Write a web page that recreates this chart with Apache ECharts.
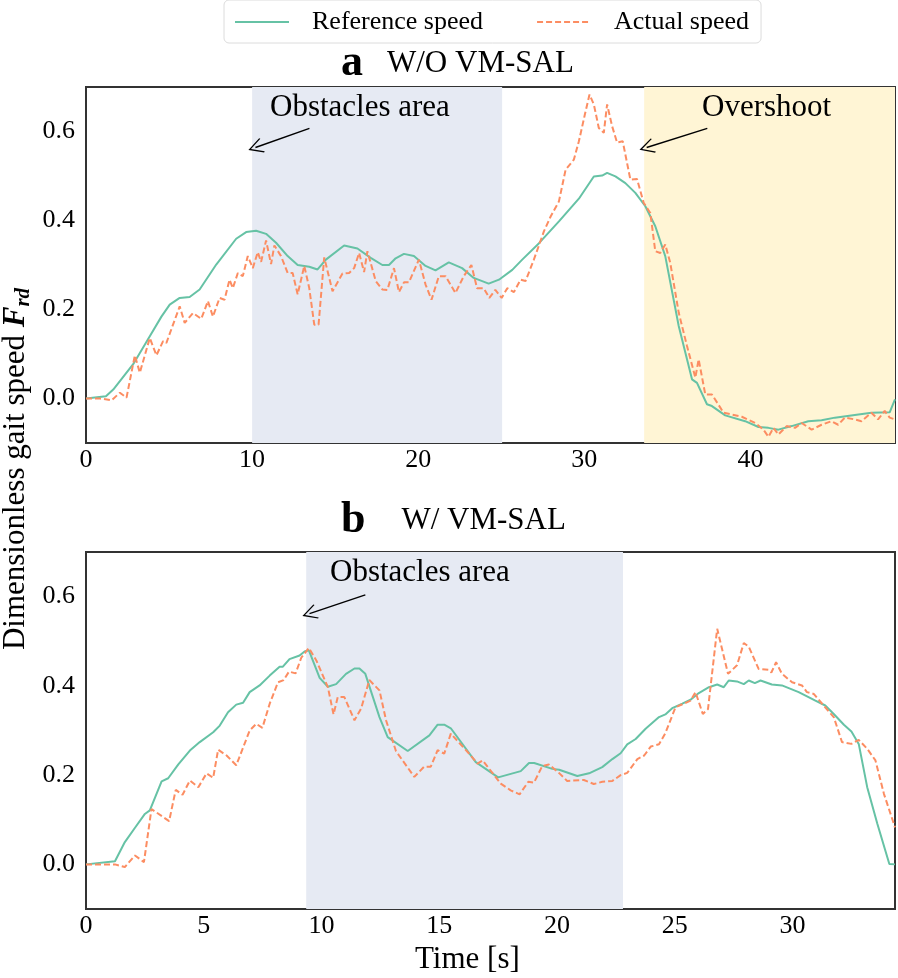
<!DOCTYPE html>
<html>
<head>
<meta charset="utf-8">
<title>Gait speed</title>
<script src="https://cdn.jsdelivr.net/npm/echarts@6/dist/echarts.min.js"></script>
<style>
  html, body { margin: 0; padding: 0; background: #fff; }
  #chart { width: 898px; height: 978px; }
</style>
</head>
<body>
<div id="chart"></div>
<script>
// panel a (W/O VM-SAL)
const topRefT = [0, 1.2, 1.64, 2.84, 3.84, 4.54, 5.04, 5.64, 6.24, 6.84, 7.84, 9.04, 9.64, 10.24, 10.84, 11.44, 12.14, 12.74, 13.44, 13.94, 14.44, 15.54, 16.34, 17.14, 17.84, 18.24, 18.64, 19.14, 19.74, 20.44, 21.04, 21.84, 22.64, 23.34, 24.24, 24.86, 25.66, 26.26, 27.27, 28.47, 29.67, 30.57, 31.07, 31.37, 31.87, 32.47, 33.07, 33.67, 34.27, 34.87, 35.68, 36.48, 36.78, 37.38, 37.68, 38.48, 39.68, 40.48, 41.08, 41.68, 42.48, 43.48, 44.28, 45.08, 46.28, 47.28, 48.38, 48.7]
const topRefV = [0, 0.005, 0.02, 0.077, 0.14, 0.184, 0.211, 0.226, 0.228, 0.245, 0.301, 0.359, 0.374, 0.377, 0.37, 0.35, 0.32, 0.3, 0.296, 0.29, 0.312, 0.344, 0.337, 0.316, 0.3, 0.3, 0.315, 0.325, 0.32, 0.298, 0.288, 0.306, 0.293, 0.271, 0.258, 0.267, 0.289, 0.312, 0.349, 0.398, 0.449, 0.499, 0.501, 0.507, 0.499, 0.484, 0.462, 0.432, 0.387, 0.32, 0.163, 0.043, 0.035, -0.013, -0.017, -0.038, -0.051, -0.064, -0.066, -0.07, -0.062, -0.051, -0.049, -0.043, -0.037, -0.032, -0.031, -0.002]
const topActT = [0, 0.84, 1.54, 2.04, 2.44, 2.94, 3.24, 3.84, 4.24, 4.64, 4.84, 5.64, 5.94, 6.44, 6.94, 7.34, 7.64, 8.04, 8.34, 8.64, 8.84, 9.14, 9.44, 9.74, 10.04, 10.34, 10.54, 10.84, 11.14, 11.34, 11.74, 12.14, 12.44, 12.74, 13.14, 13.44, 13.74, 14.0, 14.34, 14.84, 15.44, 15.84, 16.14, 16.44, 16.74, 16.94, 17.44, 17.84, 18.14, 18.54, 18.84, 19.14, 19.44, 20.04, 20.44, 20.8, 21.24, 21.64, 22.24, 22.74, 23.2, 23.54, 23.94, 24.28, 24.64, 25.02, 25.36, 25.76, 26.16, 26.46, 26.96, 27.57, 27.97, 28.47, 28.87, 29.37, 29.67, 30.03, 30.31, 30.57, 30.87, 31.17, 31.37, 31.67, 31.97, 32.31, 32.77, 33.17, 33.57, 33.97, 34.27, 34.57, 34.87, 35.17, 35.68, 36.18, 36.68, 36.88, 37.28, 37.68, 38.38, 39.48, 40.28, 40.78, 41.08, 41.38, 41.68, 42.18, 42.68, 43.08, 43.68, 44.28, 44.88, 45.28, 45.68, 46.28, 46.68, 47.28, 47.68, 48.08, 48.38, 48.7]
const topActV = [0, 0, -0.004, 0.013, 0.002, 0.097, 0.058, 0.136, 0.097, 0.129, 0.125, 0.207, 0.17, 0.192, 0.179, 0.219, 0.184, 0.226, 0.222, 0.267, 0.248, 0.282, 0.275, 0.32, 0.293, 0.329, 0.307, 0.355, 0.302, 0.344, 0.32, 0.282, 0.282, 0.234, 0.298, 0.248, 0.166, 0.166, 0.317, 0.241, 0.281, 0.282, 0.293, 0.327, 0.284, 0.331, 0.264, 0.245, 0.244, 0.293, 0.239, 0.261, 0.261, 0.312, 0.256, 0.222, 0.275, 0.275, 0.237, 0.275, 0.3, 0.248, 0.248, 0.226, 0.244, 0.226, 0.248, 0.239, 0.267, 0.264, 0.312, 0.376, 0.409, 0.443, 0.514, 0.537, 0.578, 0.638, 0.683, 0.661, 0.608, 0.597, 0.661, 0.612, 0.575, 0.578, 0.492, 0.493, 0.44, 0.417, 0.331, 0.327, 0.346, 0.305, 0.193, 0.118, 0.047, 0.088, 0.009, 0.009, -0.032, -0.041, -0.055, -0.07, -0.086, -0.066, -0.081, -0.062, -0.066, -0.055, -0.07, -0.059, -0.051, -0.059, -0.043, -0.047, -0.051, -0.032, -0.047, -0.028, -0.043, -0.047]

// panel b (W/ VM-SAL)
const botRefT = [0, 1.23, 1.65, 2.08, 2.5, 2.71, 3.21, 3.49, 3.92, 4.41, 4.83, 5.4, 5.68, 6.03, 6.38, 6.67, 6.95, 7.37, 7.8, 8.22, 8.36, 8.64, 9.07, 9.28, 9.46, 9.92, 10.27, 10.62, 11.04, 11.4, 11.61, 11.86, 12.46, 12.81, 13.66, 14.58, 14.93, 15.21, 15.49, 16.55, 17.5, 18.46, 18.81, 19.03, 19.8, 20.09, 20.86, 21.36, 21.92, 22.35, 22.7, 22.98, 23.34, 23.76, 24.33, 24.6, 24.89, 25.32, 25.67, 26.02, 26.45, 26.8, 27.08, 27.29, 27.64, 27.93, 28.14, 28.4, 28.64, 29.12, 29.55, 30.26, 30.97, 31.39, 31.75, 32.18, 32.5, 32.81, 33.17, 33.6, 34.11, 34.35]
const botRefV = [0, 0.007, 0.05, 0.082, 0.113, 0.121, 0.186, 0.193, 0.224, 0.255, 0.274, 0.296, 0.311, 0.341, 0.358, 0.362, 0.386, 0.401, 0.423, 0.443, 0.443, 0.46, 0.468, 0.477, 0.48, 0.418, 0.398, 0.404, 0.427, 0.439, 0.439, 0.427, 0.33, 0.285, 0.254, 0.289, 0.313, 0.313, 0.305, 0.229, 0.195, 0.209, 0.227, 0.227, 0.214, 0.212, 0.198, 0.204, 0.218, 0.236, 0.249, 0.269, 0.281, 0.304, 0.33, 0.336, 0.35, 0.36, 0.369, 0.384, 0.397, 0.403, 0.397, 0.412, 0.41, 0.404, 0.412, 0.406, 0.412, 0.403, 0.401, 0.386, 0.367, 0.356, 0.337, 0.313, 0.298, 0.27, 0.173, 0.091, 0.001, 0]
const botActT = [0, 1.23, 1.65, 2.08, 2.46, 2.78, 3.53, 3.81, 4.1, 4.41, 4.77, 5.12, 5.4, 5.61, 5.97, 6.38, 6.95, 7.23, 7.49, 7.8, 8.15, 8.39, 8.62, 8.9, 9.14, 9.46, 9.78, 10.27, 10.51, 10.69, 10.97, 11.4, 11.68, 12.03, 12.46, 12.74, 13.16, 13.94, 14.36, 14.64, 14.93, 15.21, 15.49, 16.27, 16.62, 16.84, 17.61, 18.03, 18.41, 18.78, 19.02, 19.37, 19.65, 20.08, 20.43, 21.14, 21.56, 21.92, 22.35, 22.7, 22.98, 23.41, 23.7, 23.98, 24.33, 24.6, 25.03, 25.38, 25.67, 25.88, 26.19, 26.41, 26.8, 27.26, 27.64, 27.93, 28.14, 28.56, 28.98, 29.1, 29.3, 29.55, 29.98, 30.4, 30.61, 30.9, 31.32, 31.75, 32.1, 32.5, 32.81, 33.17, 33.52, 33.88, 34.35]
const botActV = [0, 0, -0.006, 0.02, 0.005, 0.124, 0.097, 0.167, 0.156, 0.188, 0.173, 0.204, 0.194, 0.257, 0.244, 0.222, 0.3, 0.315, 0.306, 0.36, 0.408, 0.413, 0.432, 0.428, 0.463, 0.485, 0.457, 0.397, 0.336, 0.375, 0.375, 0.323, 0.349, 0.413, 0.39, 0.323, 0.254, 0.196, 0.219, 0.219, 0.256, 0.248, 0.293, 0.248, 0.226, 0.233, 0.181, 0.166, 0.157, 0.185, 0.183, 0.22, 0.224, 0.205, 0.187, 0.189, 0.18, 0.185, 0.187, 0.2, 0.205, 0.236, 0.244, 0.264, 0.269, 0.294, 0.352, 0.36, 0.367, 0.386, 0.337, 0.348, 0.528, 0.427, 0.446, 0.496, 0.488, 0.438, 0.436, 0.43, 0.453, 0.427, 0.408, 0.401, 0.386, 0.382, 0.356, 0.33, 0.274, 0.27, 0.279, 0.259, 0.233, 0.158, 0.083]

// shaded spans [start, end] in seconds
const topObstacle = [10, 25.05]
const topOvershoot = [33.6, 48.7]
const botObstacle = [9.35, 22.8]
const topMaxT = 48.7
const botMaxT = 34.35

const FONT = '"Liberation Serif", "DejaVu Serif", serif'
const REF_COLOR = '#66c2a5'
const ACT_COLOR = '#fc8d62'
const OBST_COLOR = '#e6eaf3'
const OVER_COLOR = '#fff5d5'
const CHEVRON = 'path://M0,0L10,15L8.7,16L0,3L-8.7,16L-10,15Z'

function zip(ts, vs) {
  return ts.map((t, i) => [t, vs[i]])
}

function arrow(from, to) {
  return [{ coord: from }, { coord: to }]
}

function xAxisFor(idx, max, step) {
  return {
    type: 'value',
    gridIndex: idx,
    min: 0,
    max: max,
    interval: step,
    axisLine: { show: false },
    axisTick: { show: false },
    splitLine: { show: false },
    axisLabel: {
      fontFamily: FONT,
      fontSize: 26,
      color: '#000',
      margin: 4,
      formatter: v => (Math.abs(v % step) < 1e-6 ? String(v) : '')
    }
  }
}

function yAxisFor(idx) {
  return {
    type: 'value',
    gridIndex: idx,
    min: -0.1,
    max: 0.7,
    interval: 0.1,
    axisLine: { show: false },
    axisTick: { show: false },
    splitLine: { show: false },
    axisLabel: {
      fontFamily: FONT,
      fontSize: 26,
      color: '#000',
      margin: 11,
      formatter: v => {
        const k = Math.round(v * 10)
        return k % 2 === 0 ? (k / 10).toFixed(1) : ''
      }
    }
  }
}

function note(text, left, top) {
  return { type: 'text', left: left, top: top, z: 100, style: { text: text, font: '31px ' + FONT, fill: '#000' } }
}

const arrowLine = {
  silent: true,
  symbol: ['none', CHEVRON],
  symbolSize: [15, 15],
  label: { show: false },
  lineStyle: { color: '#000', width: 1.4, type: 'solid' },
  emphasis: { disabled: true }
}

const chart = echarts.init(document.getElementById('chart'))

const option = {
  animation: false,
  backgroundColor: '#fff',
  legend: {
    left: 224,
    top: 0,
    padding: [9, 12, 8, 10],
    itemWidth: 54,
    itemHeight: 14,
    itemGap: 53,
    borderColor: '#dcdcdc',
    borderWidth: 1,
    borderRadius: 5,
    itemStyle: { opacity: 0 },
    textStyle: { fontFamily: FONT, fontSize: 26, color: '#000', padding: [0, 0, 0, 18] },
    data: ['Reference speed', 'Actual speed']
  },
  grid: [
    { left: 86, top: 87, width: 811, height: 356, show: true, borderColor: '#333', borderWidth: 2 },
    { left: 86, top: 552, width: 811, height: 357, show: true, borderColor: '#333', borderWidth: 2 }
  ],
  xAxis: [xAxisFor(0, topMaxT, 10), xAxisFor(1, botMaxT, 5)],
  yAxis: [yAxisFor(0), yAxisFor(1)],
  graphic: [
    {
      type: 'text', left: 341, top: 42, z: 100,
      style: {
        text: '{b|a}{n|W/O VM-SAL}',
        rich: {
          b: { fontFamily: FONT, fontSize: 44, fontWeight: 'bold', fill: '#000', padding: [0, 24, 0, 0] },
          n: { fontFamily: FONT, fontSize: 31, fill: '#000' }
        }
      }
    },
    {
      type: 'text', left: 341, top: 499, z: 100,
      style: {
        text: '{b|b}{n|W/ VM-SAL}',
        rich: {
          b: { fontFamily: FONT, fontSize: 44, fontWeight: 'bold', fill: '#000', padding: [0, 36, 0, 0] },
          n: { fontFamily: FONT, fontSize: 31, fill: '#000' }
        }
      }
    },
    note('Obstacles area', 270, 92),
    note('Overshoot', 702, 92),
    note('Obstacles area', 330, 557),
    note('Time [s]', 415, 944),
    {
      type: 'text',
      x: 16, y: 469, z: 100,
      rotation: Math.PI / 2,
      style: {
        text: '{n|Dimensionless gait speed }{f|F}{s|rd}',
        align: 'center',
        verticalAlign: 'middle',
        rich: {
          n: { fontFamily: FONT, fontSize: 31, fill: '#000', verticalAlign: 'middle' },
          f: { fontFamily: FONT, fontSize: 31, fontWeight: 'bold', fontStyle: 'italic', fill: '#000', verticalAlign: 'middle' },
          s: { fontFamily: FONT, fontSize: 21, fontWeight: 'bold', fontStyle: 'italic', fill: '#000', verticalAlign: 'middle', padding: [16, 0, 0, 0] }
        }
      }
    }
  ],
  series: [
    {
      name: 'Reference speed',
      type: 'line',
      xAxisIndex: 0, yAxisIndex: 0,
      data: zip(topRefT, topRefV),
      showSymbol: false,
      symbol: 'none',
      lineStyle: { color: REF_COLOR, width: 2 },
      itemStyle: { color: REF_COLOR },
      z: 3,
      markArea: {
        silent: true,
        data: [
          [{ xAxis: topObstacle[0], itemStyle: { color: OBST_COLOR } }, { xAxis: topObstacle[1] }],
          [{ xAxis: topOvershoot[0], itemStyle: { color: OVER_COLOR } }, { xAxis: topOvershoot[1] }]
        ]
      },
      markLine: {
        ...arrowLine,
        data: [arrow([13.45, 0.607], [10.2, 0.564]), arrow([37.4, 0.607], [33.75, 0.564])]
      }
    },
    {
      name: 'Actual speed',
      type: 'line',
      xAxisIndex: 0, yAxisIndex: 0,
      data: zip(topActT, topActV),
      showSymbol: false,
      symbol: 'none',
      lineStyle: { color: ACT_COLOR, width: 2, type: [6, 3] },
      itemStyle: { color: ACT_COLOR },
      z: 4
    },
    {
      name: 'Reference speed',
      type: 'line',
      xAxisIndex: 1, yAxisIndex: 1,
      data: zip(botRefT, botRefV),
      showSymbol: false,
      symbol: 'none',
      lineStyle: { color: REF_COLOR, width: 2 },
      itemStyle: { color: REF_COLOR },
      z: 3,
      markArea: {
        silent: true,
        data: [
          [{ xAxis: botObstacle[0], itemStyle: { color: OBST_COLOR } }, { xAxis: botObstacle[1] }]
        ]
      },
      markLine: {
        ...arrowLine,
        data: [arrow([11.86, 0.604], [9.49, 0.562])]
      }
    },
    {
      name: 'Actual speed',
      type: 'line',
      xAxisIndex: 1, yAxisIndex: 1,
      data: zip(botActT, botActV),
      showSymbol: false,
      symbol: 'none',
      lineStyle: { color: ACT_COLOR, width: 2, type: [6, 3] },
      itemStyle: { color: ACT_COLOR },
      z: 4
    }
  ]
}

chart.setOption(option)
window.addEventListener('resize', () => chart.resize())
</script>
</body>
</html>
